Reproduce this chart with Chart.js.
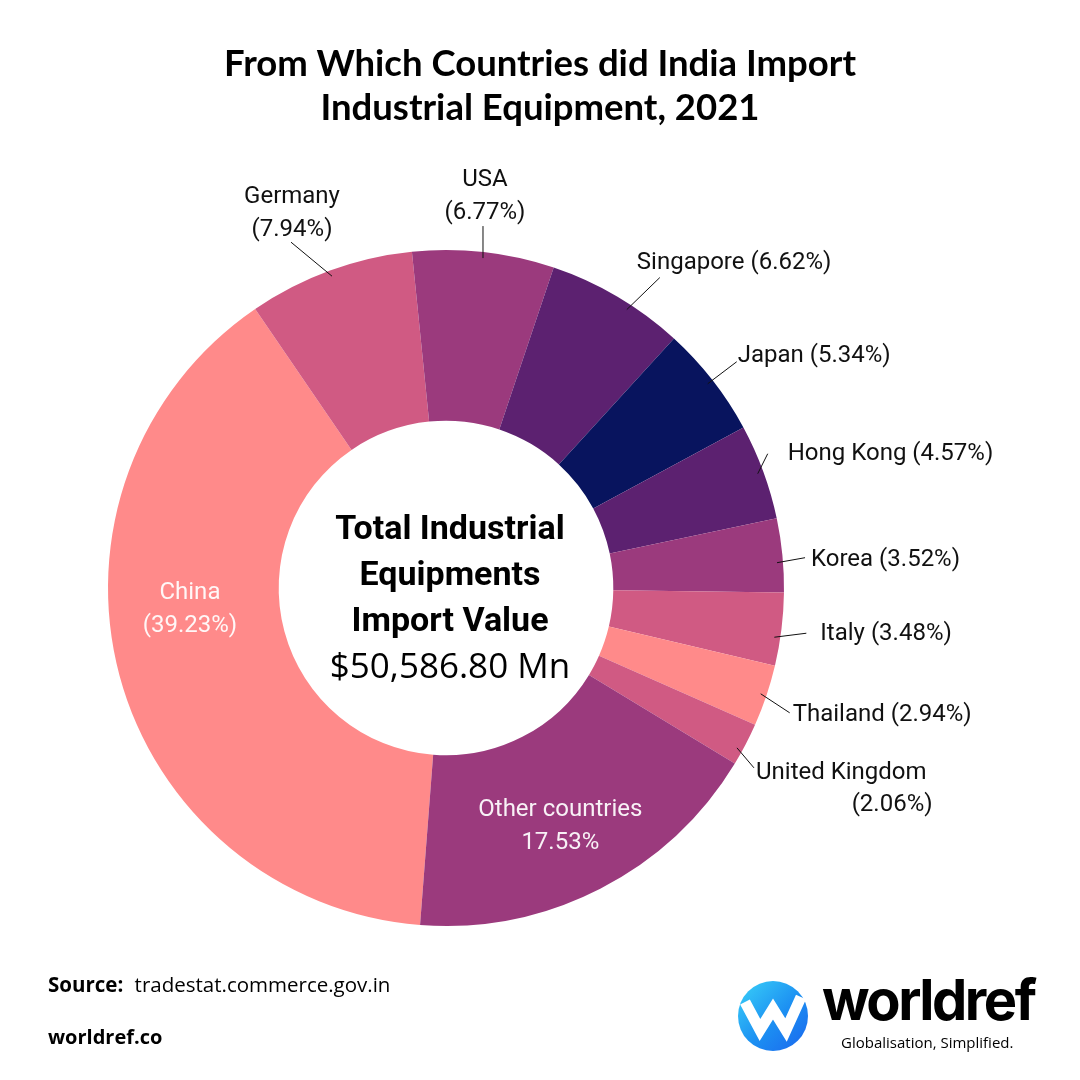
<!DOCTYPE html>
<html>
<head>
<meta charset="utf-8">
<script src="https://cdn.jsdelivr.net/npm/chart.js@4.4.0/dist/chart.umd.min.js"></script>
<style>
    html, body { margin: 0; padding: 0; background: #fff; }
    #lienzo { position: relative; width: 1080px; height: 1080px; overflow: hidden; font-family: Roboto, sans-serif; color: #000; }
    #grafica { position: absolute; left: 0; top: 0; }
    .titulo { position: absolute; top: 40px; left: 0; width: 1080px; text-align: center; font-family: Lato, sans-serif; font-weight: 700; font-size: 36.5px; line-height: 44px; }
    .centro { position: absolute; left: 250px; width: 400px; top: 504px; text-align: center; }
    .centro b { display: block; font-family: Roboto, sans-serif; font-weight: 700; font-size: 34px; line-height: 46px; }
    .centro span { display: block; font-family: "Open Sans", sans-serif; font-size: 35px; line-height: 46px; }
    .fuente { position: absolute; left: 48px; top: 970px; font-family: "Open Sans", sans-serif; font-size: 20.5px; }
    .fuente b { margin-right: 6px; }
    .sitio { position: absolute; left: 48px; top: 1023px; font-family: "Open Sans", sans-serif; font-size: 20px; font-weight: 700; }
    .logo { position: absolute; left: 738px; top: 981px; width: 70px; height: 70px; border-radius: 50%; background: linear-gradient(135deg, #3ad2f8 0%, #1c8ff2 55%, #1a66ee 100%); }
    .marca { position: absolute; left: 822px; top: 966px; font-family: Inter, sans-serif; font-weight: 700; font-size: 56px; letter-spacing: -2.5px; }
    .lema { position: absolute; left: 841px; top: 1032px; font-family: "Open Sans", sans-serif; font-size: 15px; }
</style>
</head>
<body>
<div id="lienzo">
    <canvas id="grafica" width="1080" height="1080"></canvas>
    <div class="titulo">From Which Countries did India Import<br>Industrial Equipment, 2021</div>
    <div class="centro">
        <b>Total Industrial</b>
        <b>Equipments</b>
        <b>Import Value</b>
        <span>$50,586.80 Mn</span>
    </div>
    <div class="fuente"><b>Source:</b> tradestat.commerce.gov.in</div>
    <div class="sitio">worldref.co</div>
    <div class="logo">
        <svg width="70" height="70" viewBox="0 0 70 70">
            <polyline points="7,21 22,49 35,28 48,49 63,16" fill="none" stroke="#fff" stroke-width="11" stroke-linejoin="miter" stroke-linecap="butt"/>
        </svg>
    </div>
    <div class="marca">worldref</div>
    <div class="lema">Globalisation, Simplified.</div>
</div>

<script>
// datos
const paises = ['China', 'Germany', 'USA', 'Singapore', 'Japan', 'Hong Kong', 'Korea', 'Italy', 'Thailand', 'United Kingdom', 'Other countries'];
const porcentajes = [39.23, 7.94, 6.77, 6.62, 5.34, 4.57, 3.52, 3.48, 2.94, 2.06, 17.53];

const colores = ['#ff8a8a', '#d05a83', '#9b3a7d', '#5c2170', '#08145e', '#5c2170', '#9b3a7d', '#d05a83', '#ff8a8a', '#d05a83', '#9b3a7d'];

// como se dibuja cada etiqueta (linea guia y texto)
const estiloEtiquetas = [
    { tipo: 'dentro', nudge: [-12, -44] },
    { tipo: 'arriba', ang: 0, linea: [-41, -34], texto: [1, -12] },
    { tipo: 'arriba', ang: 0, linea: [0, -32], texto: [2, -13] },
    { tipo: 'lado', ang: 2.5, linea: [33, -32], texto: [-23, -15] },
    { tipo: 'lado', ang: 0, linea: [29, -22], texto: [1, -6] },
    { tipo: 'lado', ang: 0, linea: [10, -20], texto: [20, 0] },
    { tipo: 'lado', ang: 1.2, linea: [28, -5], texto: [6, 2] },
    { tipo: 'lado', ang: 1.5, linea: [32, -4], texto: [14, 1] },
    { tipo: 'lado', ang: 0, linea: [29, 19], texto: [3, 2] },
    { tipo: 'uk', ang: 1.2, linea: [17, 20], texto: [2, 5] },
    { tipo: 'dentro', nudge: [-1, 14], sinParentesis: true }
];

function pct(i) {
    return porcentajes[i].toFixed(2) + '%';
}

const etiquetas = {
    id: 'etiquetas',
    afterDatasetsDraw(chart) {
        const ctx = chart.ctx;
        const arcos = chart.getDatasetMeta(0).data;
        ctx.save();
        ctx.font = '24px Roboto';
        ctx.textBaseline = 'middle';
        ctx.lineWidth = 1;
        ctx.strokeStyle = '#111';

        arcos.forEach((arco, i) => {
            const p = arco.getProps(['x', 'y', 'startAngle', 'endAngle', 'innerRadius', 'outerRadius'], true);
            const e = estiloEtiquetas[i];
            const medio = (p.startAngle + p.endAngle) / 2 + (e.ang || 0) * Math.PI / 180;

            if (e.tipo === 'dentro') {
                const r = (p.innerRadius + p.outerRadius) / 2;
                const cx = p.x + r * Math.cos(medio) + e.nudge[0];
                const cy = p.y + r * Math.sin(medio) + e.nudge[1];
                ctx.fillStyle = 'rgba(255,255,255,0.93)';
                ctx.textAlign = 'center';
                ctx.fillText(paises[i], cx, cy - 16.5);
                ctx.fillText(e.sinParentesis ? pct(i) : '(' + pct(i) + ')', cx, cy + 16.5);
                return;
            }

            const r = p.outerRadius - 6;
            const x0 = p.x + r * Math.cos(medio);
            const y0 = p.y + r * Math.sin(medio);
            const x1 = x0 + e.linea[0];
            const y1 = y0 + e.linea[1];
            ctx.beginPath();
            ctx.moveTo(x0, y0);
            ctx.lineTo(x1, y1);
            ctx.stroke();

            ctx.fillStyle = '#111';
            const tx = x1 + e.texto[0];
            const ty = y1 + e.texto[1];
            if (e.tipo === 'arriba') {
                ctx.textAlign = 'center';
                ctx.fillText(paises[i], tx, ty - 33);
                ctx.fillText('(' + pct(i) + ')', tx, ty);
            } else if (e.tipo === 'lado') {
                ctx.textAlign = 'left';
                ctx.fillText(paises[i] + ' (' + pct(i) + ')', tx, ty);
            } else {
                ctx.textAlign = 'left';
                ctx.fillText(paises[i], tx, ty);
                const ancho = ctx.measureText(paises[i]).width;
                ctx.textAlign = 'right';
                ctx.fillText('(' + pct(i) + ')', tx + ancho + 6, ty + 32);
            }
        });
        ctx.restore();
    }
};

const ctx = document.getElementById('grafica').getContext('2d');

let grafica = new Chart(ctx, {
    type: 'doughnut',
    data: {
        labels: paises,
        datasets: [{
            data: porcentajes,
            backgroundColor: colores,
            borderWidth: 0
        }]
    },
    options: {
        responsive: false,
        animation: false,
        rotation: 184.4,
        cutout: '49.5%',
        layout: {
            padding: { left: 108, top: 250, right: 296, bottom: 154 }
        },
        plugins: {
            legend: { display: false },
            tooltip: { enabled: false }
        },
        events: []
    },
    plugins: [etiquetas]
});
</script>
</body>
</html>
